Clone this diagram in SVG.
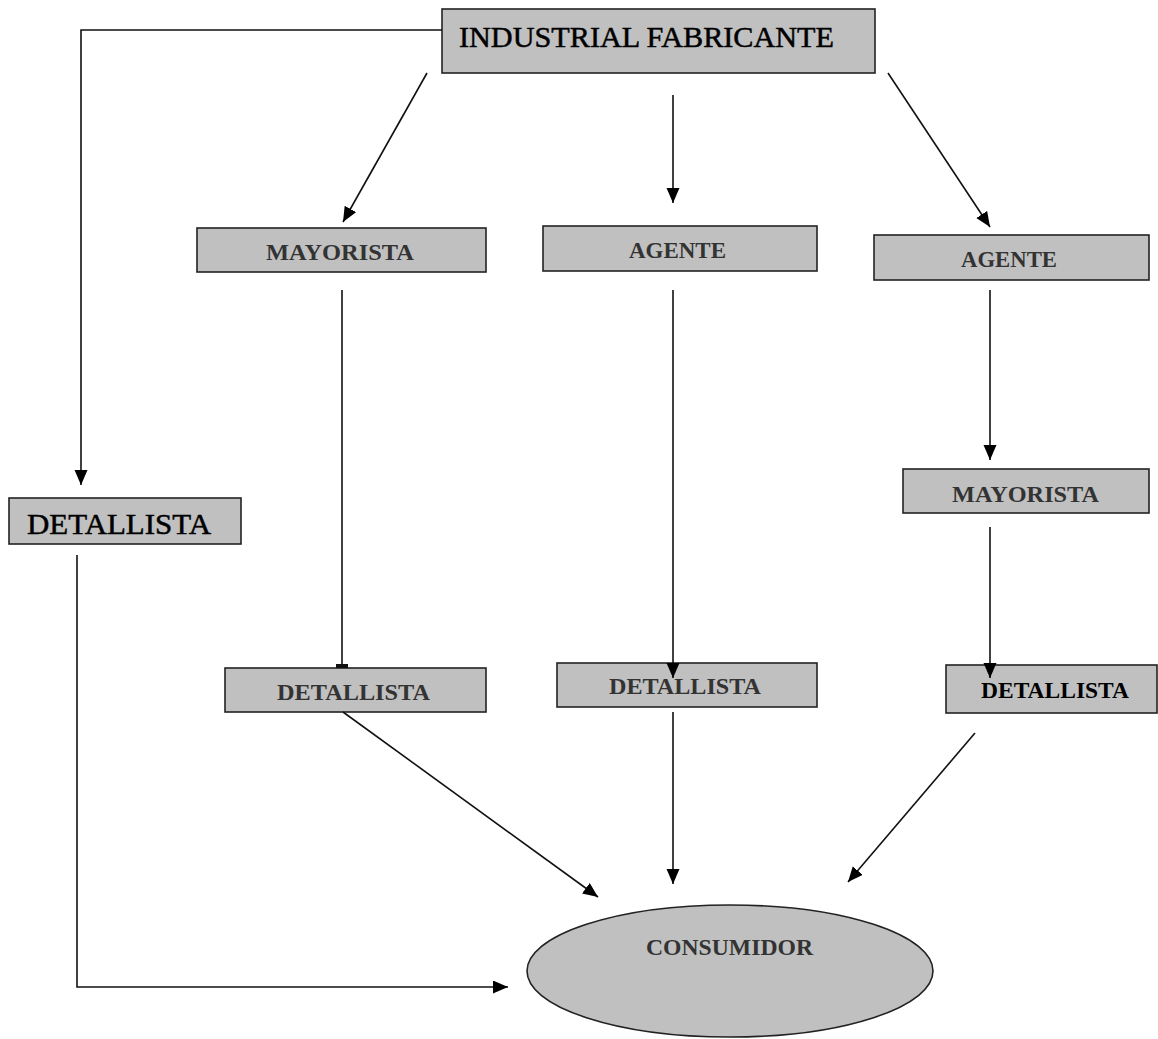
<svg xmlns="http://www.w3.org/2000/svg" width="1158" height="1039" viewBox="0 0 1158 1039">
<style>
.box{fill:#c0c0c0;stroke:#222;stroke-width:1.6}
.c{fill:none;stroke:#111;stroke-width:1.6}
.t{font-family:"Liberation Serif","Times New Roman",serif;font-weight:bold;font-size:23px;fill:#333}
.tb{font-family:"Liberation Serif","Times New Roman",serif;font-size:30px;fill:#000;stroke:#000;stroke-width:0.5}
</style>
<defs>
<marker id="ah" markerUnits="userSpaceOnUse" markerWidth="16" markerHeight="14" refX="15" refY="6.5" orient="auto">
<path d="M0,0 L15,6.5 L0,13 z" fill="#000"/>
</marker>
</defs>
<rect width="1158" height="1039" fill="#fff"/>
<g id="n-fabricante"><rect class="box" x="442" y="9" width="433" height="64"/><text class="tb" x="459" y="47" textLength="375" lengthAdjust="spacingAndGlyphs">INDUSTRIAL FABRICANTE</text></g>
<g id="n-mayorista1"><rect class="box" x="197" y="228" width="289" height="44"/><text class="t" x="266" y="260" textLength="148" lengthAdjust="spacingAndGlyphs">MAYORISTA</text></g>
<g id="n-agente1"><rect class="box" x="543" y="226" width="274" height="45"/><text class="t" x="629" y="258" textLength="97" lengthAdjust="spacingAndGlyphs">AGENTE</text></g>
<g id="n-agente2"><rect class="box" x="874" y="235" width="275" height="45"/><text class="t" x="961" y="267" textLength="96" lengthAdjust="spacingAndGlyphs">AGENTE</text></g>
<g id="n-detallista0"><rect class="box" x="9" y="498" width="232" height="46"/><text class="tb" x="27" y="534" textLength="184" lengthAdjust="spacingAndGlyphs">DETALLISTA</text></g>
<g id="n-mayorista2"><rect class="box" x="903" y="469" width="246" height="44"/><text class="t" x="952" y="502" textLength="147" lengthAdjust="spacingAndGlyphs">MAYORISTA</text></g>
<g id="n-detallista1"><rect class="box" x="225" y="668" width="261" height="44"/><text class="t" x="277" y="700" textLength="153" lengthAdjust="spacingAndGlyphs">DETALLISTA</text></g>
<g id="n-detallista2"><rect class="box" x="557" y="663" width="260" height="44"/><text class="t" x="609" y="694" textLength="152" lengthAdjust="spacingAndGlyphs">DETALLISTA</text></g>
<g id="n-detallista3"><rect class="box" x="946" y="665" width="211" height="48"/><text class="t" x="981" y="698" textLength="148" lengthAdjust="spacingAndGlyphs" style="fill:#000">DETALLISTA</text></g>
<g id="n-consumidor"><ellipse class="box" cx="730" cy="971" rx="203" ry="66"/><text class="t" x="646" y="955" textLength="167" lengthAdjust="spacingAndGlyphs">CONSUMIDOR</text></g>
<g id="connectors">
<path class="c" d="M442,30 H81 V485" marker-end="url(#ah)"/>
<path class="c" d="M427,73 L343,222" marker-end="url(#ah)"/>
<path class="c" d="M673,95 V203" marker-end="url(#ah)"/>
<path class="c" d="M888,73 L990,227" marker-end="url(#ah)"/>
<path class="c" d="M342,290 V667"/>
<path d="M336,664 H348 V668 H336 z" fill="#111"/>
<path class="c" d="M673,290 V678" marker-end="url(#ah)"/>
<path class="c" d="M990,290 V460" marker-end="url(#ah)"/>
<path class="c" d="M990,527 V678" marker-end="url(#ah)"/>
<path class="c" d="M77,555 V987 H508" marker-end="url(#ah)"/>
<path class="c" d="M343,712 L598,897" marker-end="url(#ah)"/>
<path class="c" d="M673,712 V884" marker-end="url(#ah)"/>
<path class="c" d="M975,733 L848,882" marker-end="url(#ah)"/>
</g>
</svg>
